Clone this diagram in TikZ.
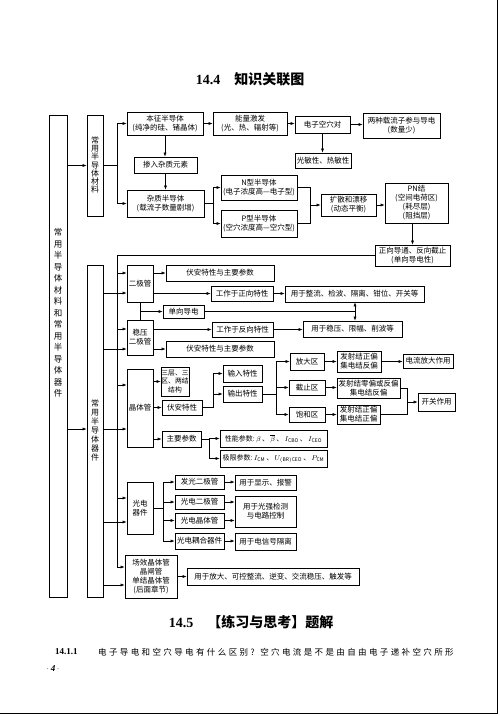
\documentclass[tikz,border=0pt]{standalone}
\usepackage{fontspec}
\setmainfont{Noto Sans CJK SC}
\newfontfamily\serifnum{Liberation Serif}
\usetikzlibrary{arrows.meta}
\newcommand\bx[6]{\node[box,minimum width={#4pt-#2pt},minimum height={#5pt-#3pt}] (#1) at ({(#2+#4)/2},{(#3+#5)/2}) {#6};}
\begin{document}
\begin{tikzpicture}[x=1pt,y=-1pt,
 box/.style={draw,line width=0.7pt,inner sep=0pt,align=center,font=\fontsize{7.5}{9}\selectfont},
 ln/.style={line width=0.5pt},
 arr/.style={ln,-{Latex[length=4pt,width=3pt]}},
 vt/.style={align=center,inner sep=0pt}
]
\useasboundingbox (0,0) rectangle (500,716);
% titles
\node[font=\fontsize{14}{14}\selectfont\bfseries] (t144) at (250,79) {{\serifnum\bfseries 14.4}\quad 知识关联图};
\node[font=\fontsize{14}{14}\selectfont\bfseries] (t145) at (251,622) {{\serifnum\bfseries 14.5}\quad 【练习与思考】题解};
\node[anchor=west,inner sep=0pt,font=\fontsize{9}{10}\selectfont] (q1) at (55,652) {\serifnum\bfseries 14.1.1};
\node[anchor=west,inner sep=0pt,font=\fontsize{8.5}{10}\selectfont] (q2) at (98,652) {\addfontfeatures{LetterSpace=28}电子导电和空穴导电有什么区别? 空穴电流是不是由自由电子递补空穴所形};
\node[inner sep=0pt,font=\fontsize{9}{9}\selectfont] (pg) at (53,669) {$\cdot$\,{\serifnum\bfseries\itshape 4}\,$\cdot$};
\draw[line width=1pt] (497,0) -- (497,713) -- (0,713);

% left columns
\bx{outer}{49}{115}{67}{597}{}
\bx{mat}{87}{115}{103}{216}{}
\bx{dev}{87}{265}{103}{597}{}
\node[vt,font=\fontsize{8.5}{11.5}\selectfont] (outert) at (58,313) {常\\用\\半\\导\\体\\材\\料\\和\\常\\用\\半\\导\\体\\器\\件};
\node[vt,font=\fontsize{8}{8.2}\selectfont] (matt) at (95,165) {常\\用\\半\\导\\体\\材\\料};
\node[vt,font=\fontsize{8}{9}\selectfont] (devt) at (95,430) {常\\用\\半\\导\\体\\器\\件};

% materials
\bx{bz}{127}{112}{203}{135}{本征半导体\\(纯净的硅、锗晶体)}
\bx{nl}{213}{112}{287}{135}{能量激发\\(光、热、辐射等)}
\bx{dk}{295}{116}{350}{133}{电子空穴对}
\bx{lz}{363}{113}{440}{138}{两种载流子参与导电\\(数量少)}
\bx{gm}{295}{153}{351}{168}{光敏性、热敏性}
\bx{cr}{134}{157}{197}{173}{掺入杂质元素}
\bx{zz}{127}{190}{204}{217}{杂质半导体\\(载流子数量剧增)}
\bx{nt}{221}{175}{297}{200}{N型半导体\\(电子浓度高—电子型)}
\bx{pt}{221}{210}{297}{237}{P型半导体\\(空穴浓度高—空穴型)}
\bx{ks}{321}{194}{376}{216}{扩散和漂移\\(动态平衡)}
\bx{pn}{385}{183}{448}{223}{PN结\\(空间电荷区)\\(耗尽层)\\(阻挡层)}
\bx{zx}{375}{245}{450}{266}{正向导通、反向截止\\(单向导电性)}

% devices
\bx{ej}{127}{265}{153}{302}{二极管}
\bx{fa1}{166}{265}{274}{281}{伏安特性与主要参数}
\bx{zxt}{211}{286}{273}{301}{工作于正向特性}
\bx{zl}{285}{286}{424}{302}{用于整流、检波、隔离、钳位、开关等}
\bx{dx}{163}{305}{204}{318}{单向导电}
\bx{wy}{127}{320}{153}{355}{稳压\\二极管}
\bx{fxt}{212}{322}{273}{337}{工作于反向特性}
\bx{wyu}{303}{321}{402}{337}{用于稳压、限幅、削波等}
\bx{fa2}{166}{341}{274}{357}{伏安特性与主要参数}

\bx{jt}{127}{369}{153}{447}{晶体管}
\node[box,font=\fontsize{6.8}{8.5}\selectfont,minimum width=28pt,minimum height=29pt] (sc) at (175,381.5) {三层、三\\区、两结\\结构};
\bx{fat}{162}{400}{202}{415}{伏安特性}
\bx{zy}{162}{431}{201}{447}{主要参数}
\bx{sr}{223}{365}{262}{382}{输入特性}
\bx{sco}{223}{386}{262}{402}{输出特性}
\bx{fd}{290}{353}{324}{370}{放大区}
\bx{jz}{289}{380}{325}{395}{截止区}
\bx{bh}{289}{407}{325}{422}{饱和区}
\bx{fz1}{337}{351}{381}{372}{发射结正偏\\集电结反偏}
\bx{fz2}{337}{378}{400}{398}{发射结零偏或反偏\\集电结反偏}
\bx{fz3}{337}{405}{380}{424}{发射结正偏\\集电结正偏}
\bx{dl}{403}{354}{453}{368}{电流放大作用}
\bx{kg}{418}{393}{455}{411}{开关作用}
\node[box,font=\fontsize{7}{8}\selectfont,minimum width=107pt,minimum height=17pt] (xn) at (273.5,438.5) {性能参数:\,$\beta$\,、\,$\overline{\beta}$\,、\,$I_{\rm CBO}$\,、\,$I_{\rm CEO}$};
\node[box,font=\fontsize{7}{8}\selectfont,minimum width=107pt,minimum height=17pt] (jx) at (273.5,458.5) {极限参数:\,$I_{\rm CM}$\,、\,$U_{\rm (BR)CEO}$\,、\,$P_{\rm CM}$};

\bx{gd}{127}{482}{153}{534}{光电\\器件}
\bx{fg}{175}{475}{224}{489}{发光二极管}
\bx{gde}{175}{495}{224}{509}{光电二极管}
\bx{gjt}{175}{513}{224}{528}{光电晶体管}
\bx{gou}{175}{533}{224}{549}{光电耦合器件}
\bx{xs}{235}{475}{296}{490}{用于显示、报警}
\bx{gq}{235}{496}{296}{527}{用于光强检测\\与电路控制}
\bx{dxh}{235}{533}{296}{550}{用于电信号隔离}
\bx{cx}{125}{555}{177}{598}{场效晶体管\\晶闸管\\单结晶体管\\(后面章节)}
\bx{fd2}{187}{568}{359}{585}{用于放大、可控整流、逆变、交流稳压、触发等}

% ---- connectors: materials
\draw[arr] (outer.east |- mat.west) -- (mat.west);
\coordinate (ta) at (117,165.5);
\draw[ln] (mat.east) -- (ta);
\draw[ln] (117,123.5) -- (117,203.5);
\draw[arr] (117,123.5) -- (bz.west);
\draw[arr] (117,203.5) -- (zz.west);
\draw[arr] (bz.east) -- (nl.west);
\draw[arr] (nl.east) -- (nl.east -| dk.west);
\draw[arr] (dk.east) -- (dk.east -| lz.west);
\draw[arr] (dk.south) -- (dk.south |- gm.north);
\draw[arr] (bz.south) -- (bz.south |- cr.north);
\draw[arr] (cr.south) -- (cr.south |- zz.north);
\coordinate (tb) at (213,203.5);
\draw[ln] (zz.east) -- (tb);
\draw[ln] (213,187.5) -- (213,223.5);
\draw[arr] (213,187.5) -- (nt.west);
\draw[arr] (213,223.5) -- (pt.west);
\draw[ln] (nt.east) -- (310,187.5) -- (310,223.5) -- (pt.east);
\draw[arr] (310,205) -- (ks.west);
\draw[arr] (ks.east) -- (ks.east -| pn.west);
\draw[arr] (zx.north |- pn.south) -- (zx.north);

% ---- devices
\draw[arr] (outer.east |- 0,429) -- (dev.west |- 0,429);
\draw[ln] (zx.west) -- (117,255.5) -- (117,567);
\foreach \y/\n in {273/ej,329/wy,385/jt,498/gd,567/cx}
  \draw[arr] (117,\y) -- (\n.west |- 0,\y);
\foreach \y/\n in {293/ej,349/wy,429/jt,522/gd,585/cx}
  \draw[arr] (dev.east |- 0,\y) -- (\n.west |- 0,\y);

\draw[arr] (ej.east |- fa1.west) -- (fa1.west);
\draw[arr] (ej.east |- zxt.west) -- (zxt.west);
\draw[arr] (zxt.east) -- (zxt.east -| zl.west);
\draw[ln] (ej.south) -- (wy.north);
\draw[arr] (140,311.5) -- (dx.west);
\coordinate (tc) at (355,311.5);
\draw[ln] (dx.east) -- (tc);
\draw[arr] (tc) -- (tc |- zl.south);
\draw[arr] (tc) -- (tc |- wyu.north);
\draw[arr] (wy.east |- fxt.west) -- (fxt.west);
\draw[arr] (fxt.east) -- (fxt.east -| wyu.west);
\draw[arr] (wy.east |- fa2.west) -- (fa2.west);

\draw[arr] (jt.east |- sc.west) -- (sc.west);
\draw[arr] (jt.east |- fat.west) -- (fat.west);
\draw[arr] (jt.east |- zy.west) -- (zy.west);
\draw[ln] (fat.east) -- (213,407.5) -- (213,373.5);
\draw[arr] (213,373.5) -- (sr.west);
\draw[arr] (213,394) -- (sco.west);
\draw[ln] (sco.east) -- (276,394);
\draw[ln] (276,361.5) -- (276,414.5);
\draw[arr] (276,361.5) -- (fd.west);
\draw[arr] (276,387.5) -- (jz.west);
\draw[arr] (276,414.5) -- (bh.west);
\draw[arr] (fd.east) -- (fd.east -| fz1.west);
\draw[arr] (fz1.east) -- (fz1.east -| dl.west);
\draw[arr] (jz.east) -- (jz.east -| fz2.west);
\draw[arr] (bh.east) -- (bh.east -| fz3.west);
\draw[ln] (fz2.east) -- (407,388) -- (407,414.5) -- (fz3.east);
\draw[arr] (407,402) -- (kg.west);
\draw[ln] (zy.east) -- (209,439) -- (209,458.5);
\draw[arr] (209,438.5) -- (xn.west);
\draw[arr] (209,458.5) -- (jx.west);

\draw[ln] (gd.east |- 0,508) -- (163,508);
\draw[ln] (163,482) -- (163,541);
\draw[arr] (163,482) -- (fg.west);
\draw[arr] (163,502) -- (gde.west);
\draw[arr] (163,520.5) -- (gjt.west);
\draw[arr] (163,541) -- (gou.west);
\draw[arr] (fg.east) -- (fg.east -| xs.west);
\draw[arr] (gde.east) -- (gde.east -| gq.west);
\draw[arr] (gjt.east) -- (gjt.east -| gq.west);
\draw[arr] (gou.east) -- (gou.east -| dxh.west);
\draw[arr] (cx.east |- fd2.west) -- (fd2.west);
\end{tikzpicture}
\end{document}
